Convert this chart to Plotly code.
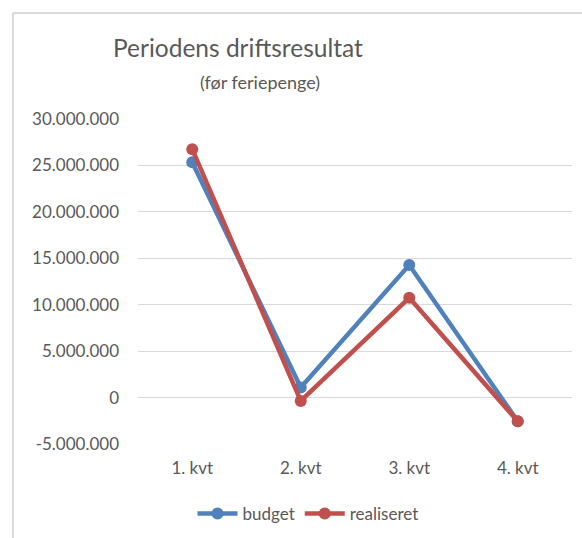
import plotly.graph_objects as go

categories = ["1. kvt", "2. kvt", "3. kvt", "4. kvt"]
budget = [25350000, 1080000, 14270000, -2560000]
realiseret = [26750000, -360000, 10750000, -2560000]
y_tickvals = [-5000000, 0, 5000000, 10000000, 15000000, 20000000, 25000000, 30000000]
y_ticktext = ["-5.000.000", "0", "5.000.000", "10.000.000", "15.000.000",
              "20.000.000", "25.000.000", "30.000.000"]

FONT = "Lato"
GRAY = "#595959"

fig = go.Figure()
fig.add_trace(go.Scatter(x=categories, y=budget, name="budget", mode="lines+markers",
                         line=dict(color="#4F81BD", width=4.5),
                         marker=dict(color="#4F81BD", size=12)))
fig.add_trace(go.Scatter(x=categories, y=realiseret, name="realiseret", mode="lines+markers",
                         line=dict(color="#C0504D", width=4.5),
                         marker=dict(color="#C0504D", size=12)))

W, H = 582, 538
L, R, T, B = 138, 10, 119, 94
pw, ph = W - L - R, H - T - B

def px(x):
    return (x - L) / pw

def py(y):
    return (H - B - y) / ph

fig.update_layout(
    width=W, height=H,
    margin=dict(l=L, r=R, t=T, b=B, autoexpand=False),
    paper_bgcolor="white", plot_bgcolor="white",
    font=dict(family=FONT, color=GRAY),
    showlegend=True,
    legend=dict(orientation="h", xref="container", yref="container",
                x=308 / W, y=1 - 514 / H, xanchor="center", yanchor="middle",
                font=dict(family=FONT, size=17, color=GRAY), itemwidth=40,
                tracegroupgap=0),
    xaxis=dict(type="category", range=[-0.5, 3.5], showgrid=False, showline=False,
               zeroline=False, ticks="", tickfont=dict(family=FONT, size=17, color=GRAY),
               ticklabelstandoff=12, fixedrange=True, automargin=False),
    yaxis=dict(range=[-5000000, 30000000], tickvals=y_tickvals, ticktext=y_ticktext,
               showgrid=True, gridcolor="#d9d9d9", gridwidth=1.3,
               zeroline=False, showline=False, ticks="",
               tickfont=dict(family=FONT, size=17, color=GRAY),
               ticklabelstandoff=18, fixedrange=True, automargin=False),
    annotations=[
        dict(text="Periodens driftsresultat", xref="paper", yref="paper",
             x=px(238), y=py(48), xanchor="center", yanchor="middle", showarrow=False,
             font=dict(family=FONT, size=24.5, color=GRAY)),
        dict(text="(før feriepenge)", xref="paper", yref="paper",
             x=px(259.5), y=py(82), xanchor="center", yanchor="middle", showarrow=False,
             font=dict(family=FONT, size=18, color=GRAY)),
    ],
    shapes=[
        dict(type="line", xref="paper", yref="paper", x0=px(13), x1=px(585), y0=py(13), y1=py(13),
             line=dict(color="#d9d9d9", width=2)),
        dict(type="line", xref="paper", yref="paper", x0=px(13), x1=px(13), y0=py(13), y1=py(540),
             line=dict(color="#d9d9d9", width=2)),
    ],
)

fig.write_html("out.html", config={"displayModeBar": False},
               post_script="document.body.style.margin='0';document.body.style.overflow='hidden';")
